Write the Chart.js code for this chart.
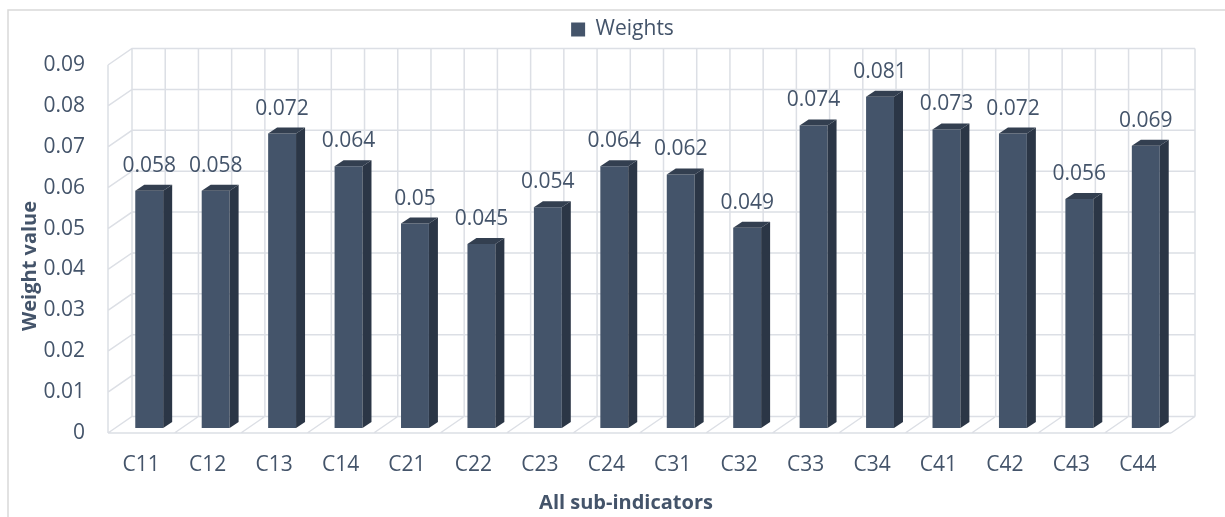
<!DOCTYPE html>
<html>
<head>
<meta charset="utf-8">
<script src="https://cdn.jsdelivr.net/npm/chart.js@4/dist/chart.umd.min.js"></script>
<style>
  html, body { margin: 0; padding: 0; background: #fff; }
  #wrap { width: 1225px; height: 517px; }
</style>
</head>
<body>
<div id="wrap"><canvas id="chart" width="1225" height="517"></canvas></div>
<script>
var categories = ['C11', 'C12', 'C13', 'C14', 'C21', 'C22', 'C23', 'C24',
  'C31', 'C32', 'C33', 'C34', 'C41', 'C42', 'C43', 'C44'];
var weights = [0.058, 0.058, 0.072, 0.064, 0.05, 0.045, 0.054, 0.064,
  0.062, 0.049, 0.074, 0.081, 0.073, 0.072, 0.056, 0.069];
var yTicks = [0, 0.01, 0.02, 0.03, 0.04, 0.05, 0.06, 0.07, 0.08, 0.09];

var textColor = '#44546A';
var gridColor = '#DCDFE5';
var frontColor = '#44546A';
var sideColor = '#2B3646';
var topColor = '#333F50';
var font = 'Open Sans';

// wall depth and bar depth (3d look)
var wallDx = 24, wallDy = -16.5;
var barDx = 9, barDy = -6;
var shiftX = 8, shiftY = -5;

var walls = {
  id: 'walls',
  beforeDraw: function(chart) {
    var ctx = chart.ctx;
    var area = chart.chartArea;
    var yScale = chart.scales.y;
    var catW = (area.right - area.left) / categories.length;
    ctx.save();
    // outer border
    ctx.strokeStyle = '#D9D9D9';
    ctx.lineWidth = 1.5;
    ctx.strokeRect(8, 10, 1240, 530);

    ctx.strokeStyle = gridColor;
    ctx.lineWidth = 1.5;
    ctx.beginPath();
    // back wall horizontal lines + left wall diagonals
    yTicks.forEach(function(v) {
      var y = yScale.getPixelForValue(v);
      ctx.moveTo(area.left, y);
      ctx.lineTo(area.left + wallDx, y + wallDy);
      ctx.lineTo(area.right + wallDx, y + wallDy);
    });
    // back wall verticals
    for (var k = 0; k <= categories.length * 2; k++) {
      var x = area.left + wallDx + k * catW / 2;
      ctx.moveTo(x, area.top + wallDy);
      ctx.lineTo(x, area.bottom + wallDy);
    }
    // left wall front edge
    ctx.moveTo(area.left, area.top);
    ctx.lineTo(area.left, area.bottom);
    // floor
    ctx.moveTo(area.left, area.bottom);
    ctx.lineTo(area.right, area.bottom);
    for (var j = 0; j <= categories.length; j++) {
      var fx = area.left + j * catW;
      ctx.moveTo(fx, area.bottom);
      ctx.lineTo(fx + wallDx, area.bottom + wallDy);
    }
    ctx.stroke();

    // axis titles
    ctx.fillStyle = textColor;
    ctx.font = 'bold 20px "' + font + '"';
    ctx.textAlign = 'center';
    ctx.textBaseline = 'middle';
    ctx.fillText('All sub-indicators', 626, 503);
    ctx.translate(30, 266);
    ctx.rotate(-Math.PI / 2);
    ctx.fillText('Weight value', 0, 0);
    ctx.restore();
  },
  beforeDatasetsDraw: function(chart) {
    chart.ctx.save();
    chart.ctx.translate(shiftX, shiftY);
  },
  afterDatasetsDraw: function(chart) {
    var ctx = chart.ctx;
    var meta = chart.getDatasetMeta(0);
    meta.data.forEach(function(bar, i) {
      var l = bar.x - bar.width / 2;
      var r = bar.x + bar.width / 2;
      // side face
      ctx.fillStyle = sideColor;
      ctx.beginPath();
      ctx.moveTo(r, bar.y);
      ctx.lineTo(r + barDx, bar.y + barDy);
      ctx.lineTo(r + barDx, bar.base + barDy);
      ctx.lineTo(r, bar.base);
      ctx.closePath();
      ctx.fill();
      // top face
      ctx.fillStyle = topColor;
      ctx.beginPath();
      ctx.moveTo(l, bar.y);
      ctx.lineTo(l + barDx, bar.y + barDy);
      ctx.lineTo(r + barDx, bar.y + barDy);
      ctx.lineTo(r, bar.y);
      ctx.closePath();
      ctx.fill();
      // value label
      ctx.fillStyle = textColor;
      ctx.font = '21px "' + font + '"';
      ctx.textAlign = 'center';
      ctx.textBaseline = 'middle';
      ctx.fillText(String(weights[i]), bar.x, bar.y - 25);
    });
    ctx.restore();
  }
};

// extra space under the legend and move it a bit right like the original
var legendGap = {
  id: 'legendGap',
  beforeInit: function(chart) {
    var legend = chart.legend;
    var fit = legend.fit;
    legend.fit = function() {
      fit.bind(legend)();
      this.height += 16;
    };
    var draw = legend.draw;
    legend.draw = function() {
      var ctx = chart.ctx;
      ctx.save();
      ctx.translate(37, 1);
      draw.apply(legend, arguments);
      ctx.restore();
    };
  }
};

new Chart(document.getElementById('chart'), {
  type: 'bar',
  data: {
    labels: categories,
    datasets: [{
      label: 'Weights',
      data: weights,
      backgroundColor: frontColor,
      borderWidth: 0,
      barPercentage: 0.42,
      categoryPercentage: 1,
      clip: false
    }]
  },
  options: {
    responsive: false,
    animation: false,
    layout: { padding: { top: 8, right: 54, bottom: 0, left: 0 } },
    plugins: {
      legend: {
        position: 'top',
        labels: {
          color: textColor,
          font: { family: font, size: 21 },
          boxWidth: 14,
          boxHeight: 14,
          padding: 10
        }
      },
      tooltip: { enabled: false }
    },
    scales: {
      x: {
        grid: { display: false, drawTicks: false },
        border: { display: false },
        ticks: { color: textColor, font: { family: font, size: 21 }, padding: 19 },
        afterFit: function(scale) { scale.height = 84; }
      },
      y: {
        min: 0,
        max: 0.09,
        grid: { display: false, drawTicks: false },
        border: { display: false },
        afterBuildTicks: function(scale) {
          scale.ticks = yTicks.map(function(v) { return { value: v }; });
        },
        ticks: {
          color: textColor,
          font: { family: font, size: 21 },
          padding: 23,
          callback: function(v) { return String(+v.toFixed(2)); }
        },
        afterFit: function(scale) { scale.width = 108; }
      }
    }
  },
  plugins: [walls, legendGap]
});
</script>
</body>
</html>
